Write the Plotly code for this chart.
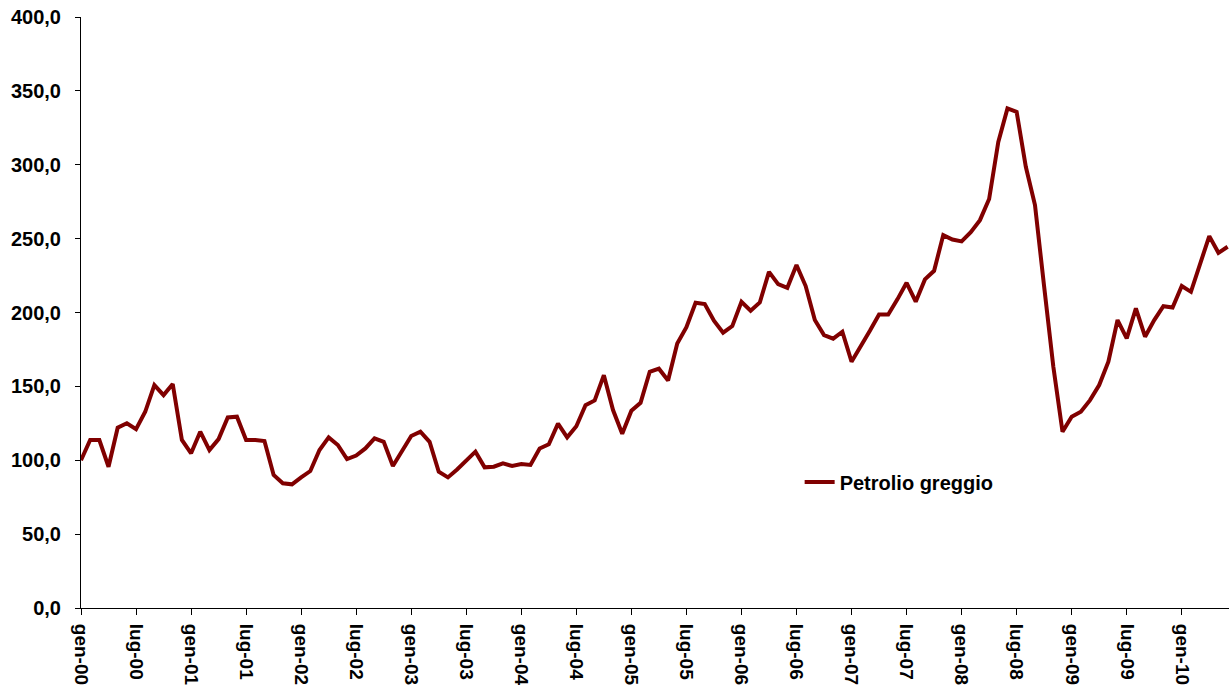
import plotly.graph_objects as go

month_names = ["gen", "feb", "mar", "apr", "mag", "giu", "lug", "ago", "set", "ott", "nov", "dic"]
years = ["00", "01", "02", "03", "04", "05", "06", "07", "08", "09", "10"]
months = [f"{m}-{y}" for y in years for m in month_names][:126]

petrolio = [
    100.0, 113.7, 113.7, 95.6, 122.0, 125.0, 121.0, 132.8, 150.9, 144.1, 151.6, 113.7,
    104.7, 119.3, 106.9, 114.3, 129.0, 129.5, 113.7, 113.7, 113.0, 90.0, 84.4, 83.7,
    88.4, 92.7, 106.9, 115.5, 110.3, 100.8, 103.2, 108.0, 114.8, 112.5, 96.1, 106.9,
    116.4, 119.3, 112.5, 92.2, 88.4, 93.8, 99.5, 105.8, 95.2, 95.6, 97.9, 96.1,
    97.5, 96.8, 108.0, 110.8, 124.8, 115.5, 123.0, 137.3, 140.5, 157.6, 134.0, 118.0,
    133.5, 138.9, 159.9, 162.0, 154.0, 179.0, 190.0, 206.6, 205.7, 194.4, 186.3, 190.8,
    207.3, 201.2, 206.8, 227.5, 219.2, 216.7, 232.1, 217.9, 194.9, 184.7, 182.3, 187.0,
    166.7, 176.8, 187.6, 198.7, 198.7, 208.9, 220.1, 207.3, 222.4, 228.2, 252.4, 249.4,
    248.1, 254.3, 262.5, 276.8, 315.5, 338.1, 335.8, 298.6, 272.7, 217.4, 163.3, 119.3,
    129.4, 132.8, 140.7, 150.9, 166.7, 194.9, 182.5, 202.8, 183.6, 194.9, 204.3, 203.4,
    217.9, 214.0, 233.2, 251.7, 240.4, 244.5,
]

tick_labels = months[::6]
y_ticks = [0, 50, 100, 150, 200, 250, 300, 350, 400]

font_family = "Arial, 'Liberation Sans', sans-serif"

fig = go.Figure()
fig.add_trace(go.Scatter(
    x=months, y=petrolio, mode="lines", name="Petrolio greggio",
    line=dict(color="#800000", width=4),
))

fig.update_layout(
    width=1229, height=700,
    margin=dict(l=81, r=0, t=17, b=92),
    paper_bgcolor="white", plot_bgcolor="white",
    separators=",.",
    font=dict(family=font_family, size=20, color="black"),
    showlegend=True,
    legend=dict(
        x=0.626, y=0.213, xanchor="left", yanchor="middle",
        bgcolor="rgba(0,0,0,0)",
        font=dict(family=font_family, size=20, color="black", weight="bold"),
    ),
    xaxis=dict(
        type="category",
        range=[0, 125.15],
        tickmode="array", tickvals=tick_labels, ticktext=tick_labels,
        tickangle=90,
        ticks="outside", ticklen=6, tickcolor="black",
        ticklabelstandoff=5,
        showline=True, linecolor="black", linewidth=1,
        showgrid=False, zeroline=False,
        tickfont=dict(family=font_family, size=19, color="black", weight="bold"),
    ),
    yaxis=dict(
        range=[0, 400],
        tickmode="array", tickvals=y_ticks,
        tickformat=".1f",
        ticks="outside", ticklen=5, tickcolor="black",
        ticklabelstandoff=10,
        showline=True, linecolor="black", linewidth=1,
        showgrid=False, zeroline=False,
        tickfont=dict(family=font_family, size=20, color="black", weight="bold"),
    ),
)

# remove the default 8px page margin so the figure fills the window exactly
fig.write_html(
    "out.html",
    config={"displayModeBar": False},
    post_script="document.body.style.margin='0';document.body.style.overflow='hidden';",
)
